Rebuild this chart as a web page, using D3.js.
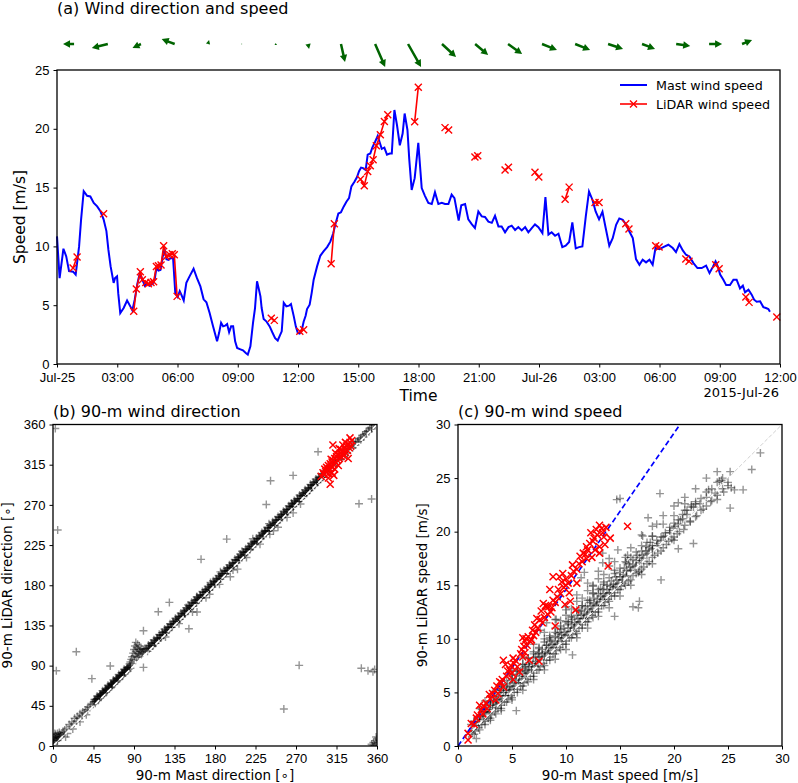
<!DOCTYPE html>
<html>
<head>
<meta charset="utf-8">
<script src="https://cdn.jsdelivr.net/npm/d3@7"></script>
<style>
body { margin: 0; background: #fff; }
svg { display: block; font-family: "DejaVu Sans", sans-serif; }
.axis path { display: none; }
.axis line { stroke: #000; stroke-width: 1; }
.axis text { fill: #000; font-size: 13px; }
</style>
</head>
<body>
<div id="chart"></div>
<script>
// ---- data (hours since 2015-07-25 00:00, m/s, degrees) ----
var mastSpeed = [[0,10.85],[0.13,7.3],[0.32,9.8],[0.46,9.15],[0.6,7.9],[0.8,7.85],[0.93,7.6],[1.1,10],[1.2,12.3],[1.33,14.7],[1.5,14.3],[1.66,14.25],[1.83,13.7],[2.0,13.4],[2.16,13],[2.32,12.3],[2.46,11.3],[2.56,9.7],[2.67,8.3],[2.82,6.9],[2.89,7.3],[2.99,7.45],[3.05,6],[3.15,4.33],[3.32,4.76],[3.49,5.4],[3.65,4.9],[3.75,4.56],[3.87,5.47],[4.0,6.8],[4.12,7.7],[4.25,7.2],[4.37,6.65],[4.48,6.9],[4.61,6.65],[4.75,6.8],[4.86,7.15],[4.95,8.15],[5.05,7.95],[5.15,8],[5.25,9],[5.35,9.85],[5.45,8.9],[5.55,8.85],[5.65,9],[5.78,9],[5.89,6.03],[6.01,5.7],[6.11,6.2],[6.19,5.9],[6.31,5.4],[6.44,6.9],[6.6,7.45],[6.8,8.1],[6.97,7.3],[7.14,6.6],[7.3,5.5],[7.44,5.25],[7.6,4.33],[7.77,3.2],[7.97,1.93],[8.07,2.63],[8.17,3.5],[8.27,3.2],[8.37,3.26],[8.47,3.4],[8.57,2.7],[8.67,3.2],[8.77,3.2],[8.87,1.93],[8.97,1.36],[9.1,1.27],[9.26,1.16],[9.4,0.93],[9.5,0.8],[9.63,1.5],[9.76,3.5],[9.86,4.76],[9.96,7.03],[10.06,6.3],[10.13,5.75],[10.19,4.76],[10.29,3.82],[10.42,3.63],[10.59,3.2],[10.72,2.7],[10.86,2.2],[10.99,2],[11.09,2.4],[11.19,2.78],[11.29,5.2],[11.42,4.9],[11.55,4.96],[11.65,5.1],[11.79,4.05],[11.89,3.2],[11.99,2.63],[12.08,2.58],[12.19,2.9],[12.28,3.6],[12.38,4.1],[12.45,4.67],[12.58,5.04],[12.68,6.03],[12.78,7.17],[12.95,8.3],[13.11,9.2],[13.28,9.6],[13.45,9.94],[13.61,10.4],[13.75,11.1],[13.88,12],[14.01,12.8],[14.14,12.9],[14.28,13.4],[14.41,13.8],[14.54,14.1],[14.66,15.1],[14.81,15.5],[14.94,15.9],[15.04,16.4],[15.14,16.7],[15.24,16.66],[15.37,16.5],[15.47,17.8],[15.6,17.9],[15.7,18.4],[15.84,18.9],[15.97,19.4],[16.07,18.84],[16.17,18.3],[16.3,18.4],[16.43,17.8],[16.57,17.9],[16.67,17.9],[16.8,21.6],[16.93,20.3],[17.07,18.6],[17.21,19.6],[17.31,21.3],[17.45,19.9],[17.54,17.4],[17.66,14.8],[17.81,15.8],[17.99,18.8],[18.16,14.96],[18.32,14.3],[18.49,13.7],[18.66,13.6],[18.82,14.6],[18.99,13.6],[19.16,13.7],[19.32,13.6],[19.49,13.6],[19.65,14.4],[19.79,14.1],[19.9,13.1],[20.0,12.2],[20.13,13.5],[20.32,13.6],[20.48,12.3],[20.65,11.9],[20.81,11.56],[20.98,12.97],[21.15,12.55],[21.31,12.5],[21.48,12.1],[21.65,12],[21.81,12.6],[21.98,11.7],[22.14,11.7],[22.31,11.2],[22.48,11.64],[22.64,11.76],[22.81,11.4],[22.97,11.64],[23.14,11.36],[23.31,11.64],[23.47,11.2],[23.64,11.56],[23.8,11.87],[23.97,11.64],[24.17,11.13],[24.32,14.2],[24.47,11],[24.63,11.2],[24.8,10.9],[24.97,11.08],[25.16,9.94],[25.33,10.06],[25.5,10.37],[25.66,12.04],[25.83,9.83],[25.99,9.94],[26.16,10],[26.33,12.55],[26.49,14.67],[26.66,13.97],[26.82,12.97],[26.99,12.3],[27.16,12.95],[27.32,11.56],[27.5,10.06],[27.67,10.7],[27.84,11.84],[28.0,12.38],[28.17,12.27],[28.34,11.84],[28.5,11.27],[28.67,10.7],[28.83,8.92],[29.0,8.44],[29.16,8.87],[29.33,8.64],[29.5,8.87],[29.66,8.44],[29.8,9.86],[30.0,9.77],[30.19,9.94],[30.44,10.14],[30.66,9.86],[30.82,9.52],[30.99,10.2],[31.16,9.66],[31.32,9.29],[31.49,9.15],[31.69,8.58],[31.89,8.16],[32.1,8.16],[32.32,8.36],[32.49,7.73],[32.65,8.24],[32.79,8.73],[32.9,8.3],[33.02,7.6],[33.18,7.17],[33.32,6.71],[33.51,6.71],[33.68,7.17],[33.84,7.17],[34.01,6.43],[34.15,6.66],[34.26,6.09],[34.43,6.32],[34.59,5.9],[34.71,5.47],[34.84,5.3],[35.01,5.33],[35.17,4.84],[35.3,4.76],[35.42,4.67],[35.5,4.45]];

// null = gap between LiDAR runs
var lidarSpeed = [[0.8,8.16],[1.0,9.1],null,[2.32,12.78],null,[3.82,4.48],[3.95,6.37],[4.15,7.85],[4.25,7.17],[4.42,6.94],[4.55,6.83],[4.68,6.94],[4.81,7.0],[4.95,8.3],[5.05,8.36],[5.18,8.41],[5.31,10.06],[5.44,9.15],[5.61,9.29],[5.74,9.38],[5.84,9.29],[5.98,5.75],null,[10.67,3.9],[10.82,3.71],null,[12.09,2.78],[12.28,2.92],null,[13.65,8.53],[13.81,11.93],null,[15.11,15.72],[15.3,15.16],[15.47,16.37],[15.6,16.86],[15.74,17.37],[15.9,18.56],[16.1,19.5],[16.3,20.62],[16.47,21.19],null,[17.81,20.6],[17.99,23.54],null,[19.32,20.1],[19.5,19.9],null,[20.81,17.6],[20.95,17.7],null,[22.31,16.5],[22.48,16.74],null,[23.8,16.3],[23.99,15.9],null,[25.3,14.0],[25.5,15.04],null,[26.79,13.74],[26.99,13.74],null,[28.32,11.93],[28.48,11.47],null,[29.81,10.06],[29.98,9.94],null,[31.31,8.92],[31.47,8.73],null,[32.8,8.44],[32.97,8.1],null,[34.3,5.69],[34.46,5.24],null,[35.84,3.99]];

// quiver: hour, u (east), v (north) in m/s
var arrowTime = [0.85,2.53,4.18,5.86,7.52,9.18,10.86,12.5,14.14,15.84,17.48,19.17,20.82,22.46,24.15,25.8,27.44,29.13,30.83,32.47,34.11];
var arrowU = [-8.5,-12.3,-6.5,-10,0.8,0.8,1.5,0.8,3.1,7.7,10,10.8,10,10.8,11.5,11.5,11.5,10,10.8,10,7.7];
var arrowV = [0,-3.1,-3.1,3.8,3,0,-0.8,-3.8,-13.8,-17.7,-17.7,-10,-8.5,-7.7,-4.6,-4.6,-3.8,-3.8,-1.5,0,3.1];

var timeTicksHours = 3;
var speedTicks = [0,5,10,15,20,25];
var dirTicks = [0,45,90,135,180,225,270,315,360];
var spdTicks = [0,5,10,15,20,25,30];

// (b) mast direction vs LiDAR direction
var dirGray = [[0,6],[1,9],[1,4],[2,11],[2,7],[3,13],[3,8],[4,10],[5,14],[5,6],[6,12],[7,15],[7,9],[8,13],[9,11],[10,14],[11,16],[12,15],[1,2],[0,3],[0,9],[2,14],[4,7],[6,9],[8,10],
[13,18],[15,20],[16,14],[18,24],[20,22],[21,27],[23,25],[24,31],[26,28],[27,33],[29,31],[30,36],[32,34],[33,38],[35,37],[36,40],[38,41],[39,44],[41,43],[42,46],[44,47],[14,10],[22,19],[30,27],[37,35],
[45,49],[46,50],[47,50],[48,52],[49,53],[50,53],[51,55],[52,56],[53,57],[54,57],[55,59],[56,60],[57,60],[58,62],[59,63],[60,63],[61,65],[62,66],[63,66],[64,68],[65,69],[66,69],[67,71],[68,72],[69,72],[70,74],[71,75],[72,76],[73,76],[74,78],[75,79],[76,79],[77,81],[78,82],[79,83],[80,84],[81,85],[82,86],[83,87],[84,88],[85,89],[86,90],
[86,94],[87,97],[88,92],[88,100],[89,104],[90,96],[90,108],[91,112],[91,101],[92,116],[92,106],[93,110],[93,99],[94,114],[94,104],[95,108],[95,100],[96,112],[96,103],[97,106],[98,109],[98,102],[99,105],[100,108],[100,104],[101,107],[102,109],[103,108],
[104,109],[106,110],[108,112],[110,114],[112,116],[114,117],[116,120],[118,121],[120,124],[122,125],[124,128],[126,129],[128,132],[130,133],[132,136],[134,137],[136,140],[138,141],[140,144],[142,145],[144,148],[146,149],[148,152],[150,153],[152,156],[154,157],[156,160],[158,161],[160,164],[162,165],[164,168],[166,169],[168,172],[170,173],[172,176],[174,177],[176,180],[178,181],[180,184],[182,185],[184,188],[186,189],[188,192],[190,193],[192,196],[194,197],[196,200],[198,201],[200,204],[202,205],[204,208],[206,209],[208,212],[210,213],[212,216],[214,217],[216,220],[218,221],[220,224],[222,225],[224,228],[226,229],[228,232],[230,233],[232,236],[234,237],[236,240],[238,241],[240,244],[242,245],[244,248],[246,249],[248,252],[250,253],[252,256],[254,257],[256,260],[258,261],[260,264],[262,265],[264,268],[266,269],[268,272],[270,273],[272,276],[274,277],[276,280],[278,281],[280,284],[282,285],[284,288],[286,289],[288,292],[290,293],[292,296],[294,297],[296,300],[298,301],
[47,48],[50,51],[53,55],[56,57],[59,60],[62,64],[65,66],[68,69],[71,73],[74,75],[77,78],[80,82],[83,84],[86,87],[105,106],[108,110],[111,112],[114,115],[117,119],[120,121],[123,124],[126,128],[129,130],[132,133],[135,137],[138,139],[141,142],[144,146],[147,148],[150,151],[153,155],[156,157],[159,160],[162,164],[165,166],[168,169],[171,173],[174,175],[177,178],[180,182],[183,184],[186,187],[189,191],[192,193],[195,196],[198,200],[201,202],[204,205],[207,209],[210,211],[213,214],[216,218],[219,220],[222,223],[225,227],[228,229],[231,232],[234,236],[237,238],[240,241],[243,245],[246,247],[249,250],[252,254],[255,256],[258,259],[261,263],[264,265],[267,268],[270,272],[273,274],[276,277],[279,281],[282,283],[285,286],[288,290],[291,292],[294,295],[297,299],[300,301],[303,305],[306,307],[309,310],[312,314],[315,316],[318,319],[321,323],[324,325],[327,328],[330,332],[333,334],[336,337],[339,341],[342,343],[345,346],[348,350],[351,352],[354,355],
[46,52],[49,56],[52,58],[55,62],[58,64],[61,68],[64,70],[67,74],[70,76],[73,80],[76,82],[79,86],[82,88],[85,92],[106,113],[109,115],[112,119],[115,121],[118,125],[121,127],[124,131],[127,133],[130,137],[133,139],[136,143],[139,145],[142,149],[145,151],[148,155],[151,157],[154,161],[157,163],[160,167],[163,169],[166,173],[169,175],[172,179],[175,181],[178,185],[181,187],[184,191],[187,193],[190,197],[193,199],[196,203],[199,205],[202,209],[205,211],[208,215],[211,217],[214,221],[217,223],[220,227],[223,229],[226,233],[229,235],[232,239],[235,241],[238,245],[241,247],[244,251],[247,253],[250,257],[253,259],[256,263],[259,265],[262,269],[265,271],[268,275],[271,277],[274,281],[277,283],[280,287],[283,289],[286,293],[289,295],[292,299],[295,301],[298,305],
[48,50],[51,53],[54,56],[57,59],[60,62],[63,65],[66,68],[69,71],[72,74],[75,77],[78,80],[81,83],[84,86],[107,109],[110,112],[113,115],[116,118],[119,121],[122,124],[125,127],[128,130],[131,133],[134,136],[137,139],[140,142],[143,145],[146,148],[149,151],[152,154],[155,157],[158,160],[161,163],[164,166],[167,169],[170,172],[173,175],[176,178],[179,181],[182,184],[185,187],[188,190],[191,193],[194,196],[197,199],[200,202],[203,205],[206,208],[209,211],[212,214],[215,217],[218,220],[221,223],[224,226],[227,229],[230,232],[233,235],[236,238],[239,241],[242,244],[245,247],[248,250],[251,253],[254,256],[257,259],[260,262],[263,265],[266,268],[269,271],[272,274],[275,277],[278,280],[281,283],[284,286],[287,289],[290,292],[293,295],[296,298],[299,301],
[47,52],[50,55],[53,58],[56,61],[59,64],[62,67],[65,70],[68,73],[71,76],[74,79],[77,82],[80,85],[83,88],[107,112],[110,115],[113,118],[116,121],[119,124],[122,127],[125,130],[128,133],[131,136],[134,139],[137,142],[140,145],[143,148],[146,151],[149,154],[152,157],[155,160],[158,163],[161,166],[164,169],[167,172],[170,175],[173,178],[176,181],[179,184],[182,187],[185,190],[188,193],[191,196],[194,199],[197,202],[200,205],[203,208],[206,211],[209,214],[212,217],[215,220],[218,223],[221,226],[224,229],[227,232],[230,235],[233,238],[236,241],[239,244],[242,247],[245,250],[248,253],[251,256],[254,259],[257,262],[260,265],[263,268],[266,271],[269,274],[272,277],[275,280],[278,283],[281,286],[284,289],[287,292],[290,295],[293,298],[296,301],[299,304],
[125,122],[140,137],[155,150],[170,166],[185,181],[200,197],[215,211],[230,226],[245,241],[260,256],[275,271],[150,158],[175,183],[210,218],[240,249],[265,272],[186,195],[205,198],[222,232],[160,150],[250,245],[235,240],
[300,304],[302,305],[304,308],[306,309],[308,312],[310,313],[312,316],[314,317],[316,320],[318,321],[320,324],[322,325],[324,328],[326,329],[328,332],[330,333],[332,336],[334,337],[336,340],[338,341],[340,344],[342,345],[344,348],[346,349],[348,352],[350,353],[352,356],[354,357],[356,359],[357,360],[358,360],
[354,2],[356,4],[357,1],[358,6],[359,3],[360,8],[359,10],[355,0],
[2.6,355.6],[5.2,241.8],[3.7,84.3],[25.9,105.6],[43.2,75.4],[63.6,89.6],[100.5,129.1],[100.5,88],[117,150.4],[129.3,160.8],[151,131.3],[164.5,209],[193,231.7],[241.7,297],[266.8,303],[237,270.5],[240.9,237],[266.8,261],[294.5,329.5],[273.5,90.3],[256.5,41.4],[340,271.3],[354,276.5],[342.6,87],[350,84.3],[355.5,83.2],[357.4,85.8],[197,189.5],[174,170],[159.6,167]];

var dirRed = [[298,302],[300,306],[301,304],[302,310],[303,307],[304,312],[305,309],[306,314],[306,305],[307,311],[308,316],[308,293],[309,313],[310,318],[310,306],[311,320],[311,337],[312,315],[313,322],[313,310],[314,318],[315,324],[316,320],[317,326],[317,314],[318,322],[319,328],[320,324],[320,332],[321,327],[322,330],[323,325],[324,333],[325,329],[326,336],[327,331],[328,338],[328,322],[329,334],[330,340],[331,336],[332,342],[325,340],[318,333],[314,328],[309,321],[322,337],[330,345],[306,300],[312,303]];

// (c) mast speed vs LiDAR speed
var spdGray = [[1.0,0.9],[1.1,1.3],[1.3,1.2],[1.4,1.6],[1.6,1.4],[1.7,1.9],[1.9,1.7],[2.0,2.2],[2.2,2.0],[2.3,2.5],[2.5,2.3],[2.6,2.8],[2.8,2.6],[2.9,3.2],[3.1,2.9],[3.2,3.4],[3.4,3.2],[3.5,3.8],[3.7,3.5],[3.8,4.0],[4.0,3.8],[4.1,4.4],[4.3,4.1],[4.4,4.7],[4.6,4.4],[4.7,5.0],[4.9,4.7],[5.0,5.3],[5.2,5.0],[5.3,5.6],[5.5,5.3],[5.6,5.9],[5.8,5.6],[5.9,6.2],[6.1,5.9],[6.2,6.5],[6.4,6.2],[6.5,6.8],[6.7,6.5],[6.8,7.1],[7.0,6.8],[7.1,7.4],[7.3,7.1],[7.4,7.7],[7.6,7.4],[7.7,8.0],[7.9,7.7],[8.0,8.3],[8.2,8.0],[8.3,8.6],[8.5,8.3],[8.6,8.9],[8.8,8.6],[8.9,9.2],[9.1,8.9],[9.2,9.5],[9.4,9.2],[9.5,9.8],[9.7,9.5],[9.8,10.1],[10.0,9.8],[10.1,10.4],[10.3,10.1],[10.4,10.7],[10.6,10.4],[10.7,11.0],[10.9,10.7],[11.0,11.3],[11.2,11.0],[11.3,11.6],[11.5,11.3],[11.6,11.9],[11.8,11.6],[11.9,12.2],[12.1,11.9],[12.2,12.5],[12.4,12.2],[12.5,12.8],[12.7,12.5],[12.8,13.1],[13.0,12.8],[13.1,13.4],[13.3,13.1],[13.4,13.7],[13.6,13.4],[13.7,14.0],[13.9,13.7],[14.0,14.3],[14.2,14.0],[14.3,14.6],[14.5,14.3],[14.6,14.9],[14.8,14.6],[14.9,15.2],[15.1,14.9],[15.2,15.5],[15.4,15.2],[15.6,15.8],[15.8,15.4],[16.0,16.3],[16.2,15.9],[16.5,16.8],[16.7,16.2],[17.0,17.3],[17.2,16.7],[17.5,17.9],[17.7,17.2],[18.0,18.4],[18.2,17.8],[18.5,18.9],[18.8,18.2],[19.0,19.5],[19.3,18.8],[19.6,20.1],[19.8,19.3],[20.1,20.5],[20.3,19.8],[20.6,21.1],[20.9,20.2],[21.2,21.6],[21.5,20.9],[21.8,22.3],[22.1,21.5],[22.4,22.6],[22.7,22.1],[23.0,23.2],[23.4,22.8],[23.8,23.6],[24.2,24.7],[24.4,24.8],[24.6,23.7],[25.0,24.3],[25.3,24.1],[24.0,23.0],[23.2,23.9],[22.0,22.8],[21.6,22.5],[21.0,22.0],
[1.2,2.0],[1.5,2.3],[1.8,2.5],[2.1,2.9],[2.4,3.2],[2.7,3.4],[3.0,3.8],[3.3,4.1],[3.6,4.3],[3.9,4.7],[4.2,5.0],[4.5,5.2],[4.8,5.6],[5.1,5.9],[5.4,6.1],[5.7,6.5],[6.0,6.8],[6.3,7.0],[6.6,7.4],[6.9,7.7],[7.2,7.9],[7.5,8.3],[7.8,8.6],[8.1,8.8],[8.4,9.2],[8.7,9.5],[9.0,9.7],[9.3,10.1],[9.6,10.4],[9.9,10.6],[10.2,11.0],[10.5,11.3],[10.8,11.5],[11.1,11.9],[11.4,12.2],[11.7,12.4],[12.0,12.8],[12.3,13.1],[12.6,13.3],[12.9,13.7],[13.2,14.0],[13.5,14.2],[13.8,14.6],[14.1,14.9],[14.4,15.1],[14.7,15.5],[15.0,15.8],[15.3,16.0],[15.6,16.4],[15.9,16.7],[16.2,16.9],[16.5,17.3],[16.8,17.6],[17.1,17.8],[17.4,18.2],[17.7,18.5],[18.0,18.7],[18.4,19.2],[18.8,19.5],[19.2,19.9],[19.6,20.4],[20.0,20.8],[20.4,21.1],[20.8,21.6],[21.2,22.0],[21.6,22.3],[22.0,22.6],[22.5,23.1],[23.0,23.7],[23.5,24.0],[24.0,24.6],[24.5,25.0],
[2.0,3.5],[2.5,4.2],[3.0,4.6],[3.5,5.2],[4.0,5.6],[4.5,6.1],[5.0,6.7],[5.5,7.1],[6.0,7.6],[6.5,8.2],[7.0,8.6],[7.5,9.1],[8.0,9.7],[8.5,10.1],[9.0,10.6],[9.5,11.2],[10.0,11.6],[10.5,12.1],[11.0,12.7],[11.5,13.1],[12.0,13.6],[12.5,14.2],[13.0,14.6],[13.5,15.1],[14.0,15.7],[14.5,16.1],[15.0,16.6],[15.5,17.2],[16.0,17.6],[16.5,18.1],[17.0,18.7],[17.5,19.0],[18.0,19.6],[19.0,20.7],[20.0,21.5],[21.0,22.6],
[1.5,1.1],[2.0,1.5],[2.5,2.0],[3.0,2.6],[3.5,3.0],[4.0,3.5],[4.5,4.1],[5.0,4.5],[5.5,5.0],[6.0,5.6],[6.5,6.0],[7.0,6.5],[7.5,7.1],[8.0,7.5],[8.5,8.0],[9.0,8.6],[9.5,9.0],[10.0,9.5],[10.5,10.1],[11.0,10.5],[11.5,11.0],[12.0,11.6],[12.5,12.0],[13.0,12.5],[13.5,13.1],[14.0,13.5],[14.5,14.0],[15.0,14.6],[15.5,15.0],[16.0,15.5],[16.5,16.1],[17.0,16.5],[17.5,17.0],[18.0,17.6],[18.5,18.0],[19.0,18.5],[19.5,19.1],[20.0,19.5],[20.5,20.0],[21.0,20.6],[21.5,21.0],[22.0,21.4],[22.5,22.0],[23.0,22.4],[23.5,22.9],[24.0,23.4],[24.5,24.0],[25.0,24.6],
[1.6,1.9],[2.0,2.3],[2.4,2.7],[2.8,3.1],[3.2,3.6],[3.6,3.9],[4.0,4.3],[4.4,4.7],[4.8,5.2],[5.2,5.5],[5.6,5.9],[6.0,6.3],[6.4,6.8],[6.8,7.1],[7.2,7.5],[7.6,7.9],[8.0,8.4],[8.4,8.7],[8.8,9.1],[9.2,9.5],[9.6,10.0],[10.0,10.3],[10.4,10.7],[10.8,11.1],[11.2,11.6],[11.6,11.9],[12.0,12.3],[12.4,12.7],[12.8,13.2],[13.2,13.5],[13.6,13.9],[14.0,14.3],[14.4,14.8],[14.8,15.1],[15.2,15.5],[15.6,15.9],[16.0,16.4],[16.4,16.7],[16.8,17.1],[17.2,17.5],[17.6,18.0],[18.0,18.3],[18.4,18.7],[18.8,19.1],[19.2,19.6],[19.6,19.9],[20.0,20.3],[20.4,20.7],[20.8,21.2],
[2.2,3.4],[2.6,3.8],[3.0,4.2],[3.4,4.6],[3.8,5.0],[4.2,5.4],[4.6,5.8],[5.0,6.2],[5.4,6.6],[5.8,7.0],[6.2,7.4],[6.6,7.8],[7.0,8.2],[7.4,8.6],[7.8,9.0],[8.2,9.4],[8.6,9.8],[9.0,10.2],[9.4,10.6],[9.8,11.0],[10.2,11.4],[10.6,11.8],[11.0,12.2],[11.4,12.6],[11.8,13.0],[12.2,13.4],[12.6,13.8],[13.0,14.2],[13.4,14.6],[13.8,15.0],[14.2,15.4],[14.6,15.8],[15.0,16.2],[15.4,16.6],[15.8,17.0],[16.2,17.4],[16.6,17.8],[17.0,18.2],[17.4,18.6],[17.8,19.0],
[6,5.2],[8,7.1],[10,9.0],[12,11.0],[14,12.9],[16,15.0],[18,17.0],[20,19.2],[9,8.1],[11,10.1],[13,12.1],[15,14.0],[17,16.0],[7,6.2],[5,4.3],[4,3.3],[3,2.4],
[3,4.0],[4,5.2],[5,6.3],[5.5,7.0],[6,7.6],[6.5,8.2],[7,8.8],[7.5,9.2],[8,10.0],[8.5,10.3],[9,11.0],[9.5,11.7],[10,12.2],[10.5,12.8],[11,13.5],[11.5,13.8],[12,14.5],[12.5,15.0],[13,15.6],[13.5,16.0],[14,16.8],[14.5,17.2],[6.2,7.2],[7.2,8.3],[8.2,9.4],[9.2,10.5],[10.2,11.6],[11.2,12.6],[12.2,13.6],[13.2,14.7],[4.5,5.5],[3.5,4.4],[2.5,3.2],[2,2.8],[1.5,2.3],
[4,5.8],[5,7.0],[6,8.3],[7,9.5],[8,10.6],[9,11.8],[10,13.0],[11,14.1],[12,15.2],[13,16.3],[14,17.5],[6.5,7.6],[7.5,8.7],[8.5,9.9],[9.5,10.9],[10.5,12.0],[11.5,13.1],[12.5,14.3],[13.5,15.3],[14.5,16.4],[15.5,17.6],[16,18.5],[17,19.7],[18,20.5],[19,21.5],[20,22.4],[21,23.2],[22,24.0],[23,25.0],[24,25.6],
[28,27.35],[27.2,25.8],[25.2,25.6],[26.4,23.9],[25.6,23.9],[25.2,22.2],[15,23.1],[14.7,22.99],[18.7,23.55],[20.4,22.7],[17.6,21.3],[18.4,20.7],[17.1,19.6],[18,19.56],[18.8,15.5],[21.8,18.9],[20.4,18.4],[16.8,13.5],[16.2,13],[16.7,12.9],[14.5,12.1],[10.6,8.5],[5.4,3.3],[1.7,0.7],[15.7,17.8],[14.8,18.3],[13.4,18.0],[11.7,16.2],[12.5,14.9],[11.4,15.7],[9.4,14],[8.2,11.5],[9.1,11.8],[7.6,10.8],[10,12.7],[13.4,17.1],[16.8,16.3],[15.6,17.1]];

var spdRed = [[0.93,0.56],[0.93,1.18],[1.23,2.1],[1.7,2.6],[2.16,3.4],[2.0,3.8],[2.6,4.0],[2.9,4.8],[3.4,5.2],[3.5,4.3],[3.86,6.0],[4.2,5.5],[4.5,6.5],[4.4,7.6],[4.8,7.1],[5.2,7.7],[5.1,8.2],[5.7,6.9],[6.0,8.3],[6.1,9.3],[6.3,10.0],[6.5,10.2],[6.7,9.75],[6.9,10.8],[6.6,8.0],[7.1,11.3],[7.6,11.8],[7.5,7.9],[7.9,13.3],[8.2,13.0],[8.6,12.5],[8.8,13.6],[8.5,14.6],[9.3,14.6],[9.4,15.8],[9.7,16.1],[9.6,15.3],[10.0,15.0],[10.3,14.3],[10.9,12.7],[10.6,16.9],[11.3,17.7],[11.6,18.0],[11.9,17.5],[12.3,19.9],[12.8,20.2],[13.1,20.6],[13.4,19.9],[13.1,18.6],[13.1,18.0],[13.7,20.4],[14.1,19.4],[13.9,16.8],[15.7,20.5],[11.9,18.6],[12.5,19.1],[8.8,15.8],[9.0,11.2],[5.1,6.2],[4.2,8.0],
[1.5,2.0],[1.8,2.9],[2.3,3.0],[2.4,3.7],[2.7,3.5],[3.0,4.4],[3.2,4.9],[3.6,5.6],[3.7,4.9],[4.0,5.9],[4.1,6.2],[4.6,7.0],[4.9,7.5],[5.0,6.8],[5.3,8.0],[5.5,7.4],[5.8,8.6],[5.9,9.0],[6.2,8.7],[6.4,9.4],[6.8,9.9],[7.0,10.3],[7.2,10.6],[7.4,11.0],[7.8,11.5],[8.0,12.0],[8.3,12.3],[8.4,13.0],[8.7,12.9],[9.0,13.4],[9.2,13.9],[9.5,14.2],[9.8,14.8],[10.0,15.6],[10.2,15.2],[10.5,15.9],[10.7,16.3],[11.0,16.5],[11.2,17.0],[11.5,17.2],[11.8,17.9],[12.0,18.3],[12.2,18.9],[12.6,19.4],[12.9,19.7],[13.3,20.3],[13.5,19.5],[13.6,18.8],[12.7,18.3],[12.4,17.6],[11.0,15.2],[10.4,13.5],[9.9,13.2],[6.0,10.1],[6.2,9.8],[7.3,11.9],[7.7,12.6],[8.1,13.1]];

// fitted lines (intercept, slope, x from, x to)
var fitLidar = [0, 1.46, 0, 30];
var fitMast = [0.1, 1.0, 0.8, 20.3];

// ---- drawing ----
var W = 798, H = 783;
var svg = d3.select("#chart").append("svg").attr("width", W).attr("height", H);
var defs = svg.append("defs");

var t0 = new Date(2015, 6, 25, 0, 0);
function toDate(h) { return new Date(t0.getTime() + h * 3600000); }

var plusPath = "M-4,0H4M0,-4V4";
var crossPath = "M-3.5,-3.5L3.5,3.5M-3.5,3.5L3.5,-3.5";

// panel (a)
var a = {left: 57, right: 780, top: 70, bottom: 364};
var xa = d3.scaleTime().domain([t0, toDate(36)]).range([a.left, a.right]);
var ya = d3.scaleLinear().domain([0, 25]).range([a.bottom, a.top]);

var fmtDay = d3.timeFormat("%b-%d"), fmtHour = d3.timeFormat("%H:%M");

svg.append("g").attr("class", "axis")
    .attr("transform", "translate(0," + a.bottom + ")")
    .call(d3.axisBottom(xa).ticks(d3.timeHour.every(timeTicksHours)).tickSize(3.5).tickPadding(5.5)
        .tickFormat(function(d) { return d.getHours() === 0 ? fmtDay(d) : fmtHour(d); }));

svg.append("g").attr("class", "axis")
    .attr("transform", "translate(" + a.left + ",0)")
    .call(d3.axisLeft(ya).tickValues(speedTicks).tickSize(3.5).tickPadding(4));

var lineA = d3.line()
    .defined(function(d) { return d !== null; })
    .x(function(d) { return xa(toDate(d[0])); })
    .y(function(d) { return ya(d[1]); });

svg.append("path").datum(mastSpeed)
    .attr("d", lineA).attr("fill", "none").attr("stroke", "#0000ff").attr("stroke-width", 2);

svg.append("path").datum(lidarSpeed)
    .attr("d", lineA).attr("fill", "none").attr("stroke", "#ff0000").attr("stroke-width", 1.6);

svg.append("g").selectAll("path")
    .data(lidarSpeed.filter(function(d) { return d !== null; }))
    .enter().append("path")
    .attr("d", crossPath)
    .attr("transform", function(d) { return "translate(" + xa(toDate(d[0])) + "," + ya(d[1]) + ")"; })
    .attr("stroke", "#ff0000").attr("stroke-width", 1.4).attr("fill", "none");

svg.append("rect").attr("x", a.left).attr("y", a.top)
    .attr("width", a.right - a.left).attr("height", a.bottom - a.top)
    .attr("fill", "none").attr("stroke", "#000").attr("stroke-width", 1.3);

// quiver row
var quiverY = 44, quiverScale = 1.3;
arrowTime.forEach(function(h, i) {
    var dx = arrowU[i] * quiverScale, dy = -arrowV[i] * quiverScale;
    var L = Math.sqrt(dx * dx + dy * dy), ang = Math.atan2(dy, dx) * 180 / Math.PI;
    var hl = 7, hw = 3.7, sw = 1.25;
    var k = L < hl ? L / hl : 1;
    var b = L - hl * k;
    var p = "M0," + (-sw * k) + "L" + b + "," + (-sw * k) + "L" + b + "," + (-hw * k) +
        "L" + L + ",0L" + b + "," + (hw * k) + "L" + b + "," + (sw * k) + "L0," + (sw * k) + "Z";
    svg.append("path").attr("d", p).attr("fill", "#006400")
        .attr("transform", "translate(" + xa(toDate(h)) + "," + quiverY + ") rotate(" + ang + ")");
});

// legend
var lg = svg.append("g");
lg.append("line").attr("x1", 620).attr("x2", 647).attr("y1", 85).attr("y2", 85)
    .attr("stroke", "#0000ff").attr("stroke-width", 2);
lg.append("line").attr("x1", 620).attr("x2", 647).attr("y1", 104).attr("y2", 104)
    .attr("stroke", "#ff0000").attr("stroke-width", 1.6);
lg.append("path").attr("d", crossPath).attr("transform", "translate(633.5,104)")
    .attr("stroke", "#ff0000").attr("stroke-width", 1.4);
lg.append("text").attr("x", 656).attr("y", 89.5).attr("font-size", "12.7px").text("Mast wind speed");
lg.append("text").attr("x", 656).attr("y", 108.5).attr("font-size", "12.7px").text("LiDAR wind speed");

svg.append("text").attr("x", 57).attr("y", 14).attr("font-size", "16px").text("(a) Wind direction and speed");
svg.append("text").attr("x", (a.left + a.right) / 2).attr("y", 401).attr("text-anchor", "middle")
    .attr("font-size", "15.5px").text("Time");
svg.append("text").attr("x", 779).attr("y", 397).attr("text-anchor", "end")
    .attr("font-size", "13px").text("2015-Jul-26");
svg.append("text").attr("transform", "translate(25," + (a.top + a.bottom) / 2 + ") rotate(-90)")
    .attr("text-anchor", "middle").attr("font-size", "15.5px").text("Speed [m/s]");

// scatter panels
function scatterPanel(id, box, maxV, ticks, grayPts, redPts, title, xlabel, ylabel, ylabelX, fits) {
    var x = d3.scaleLinear().domain([0, maxV]).range([box.left, box.right]);
    var y = d3.scaleLinear().domain([0, maxV]).range([box.bottom, box.top]);

    defs.append("clipPath").attr("id", id).append("rect")
        .attr("x", box.left).attr("y", box.top)
        .attr("width", box.right - box.left).attr("height", box.bottom - box.top);

    var g = svg.append("g").attr("clip-path", "url(#" + id + ")");

    g.append("g").selectAll("path").data(grayPts).enter().append("path")
        .attr("d", plusPath)
        .attr("transform", function(d) { return "translate(" + x(d[0]) + "," + y(d[1]) + ")"; })
        .attr("stroke", "#000").attr("stroke-opacity", 0.42).attr("stroke-width", 1.4);

    // 1:1 reference
    g.append("line").attr("x1", x(0)).attr("y1", y(0)).attr("x2", x(maxV)).attr("y2", y(maxV))
        .attr("stroke", "#d0d0d0").attr("stroke-width", 1).attr("stroke-dasharray", "4,2");

    fits.forEach(function(f) {
        g.append("line")
            .attr("x1", x(f.fit[2])).attr("y1", y(f.fit[0] + f.fit[1] * f.fit[2]))
            .attr("x2", x(f.fit[3])).attr("y2", y(f.fit[0] + f.fit[1] * f.fit[3]))
            .attr("stroke", f.color).attr("stroke-width", 1.7).attr("stroke-dasharray", "5.5,3");
    });

    g.append("g").selectAll("path").data(redPts).enter().append("path")
        .attr("d", crossPath)
        .attr("transform", function(d) { return "translate(" + x(d[0]) + "," + y(d[1]) + ")"; })
        .attr("stroke", "#ff0000").attr("stroke-width", 1.5);

    svg.append("g").attr("class", "axis")
        .attr("transform", "translate(0," + box.bottom + ")")
        .call(d3.axisBottom(x).tickValues(ticks).tickSize(3.5).tickPadding(4));
    svg.append("g").attr("class", "axis")
        .attr("transform", "translate(" + box.left + ",0)")
        .call(d3.axisLeft(y).tickValues(ticks).tickSize(3.5).tickPadding(4));

    svg.append("rect").attr("x", box.left).attr("y", box.top)
        .attr("width", box.right - box.left).attr("height", box.bottom - box.top)
        .attr("fill", "none").attr("stroke", "#000").attr("stroke-width", 1.3);

    svg.append("text").attr("x", box.left).attr("y", 417).attr("font-size", "16px").text(title);
    svg.append("text").attr("x", (box.left + box.right) / 2).attr("y", 780)
        .attr("text-anchor", "middle").attr("font-size", "13.5px").text(xlabel);
    svg.append("text").attr("transform", "translate(" + ylabelX + "," + (box.top + box.bottom) / 2 + ") rotate(-90)")
        .attr("text-anchor", "middle").attr("font-size", "13.5px").text(ylabel);
}

scatterPanel("clipB", {left: 53, right: 377, top: 424.5, bottom: 746}, 360, dirTicks,
    dirGray, dirRed, "(b) 90-m wind direction", "90-m Mast direction [\u2218]",
    "90-m LiDAR direction [\u2218]", 12,
    [{fit: [0, 1, 0, 360], color: "#ffffff"}]);

scatterPanel("clipC", {left: 458, right: 782, top: 424.5, bottom: 746}, 30, spdTicks,
    spdGray, spdRed, "(c) 90-m wind speed", "90-m Mast speed [m/s]",
    "90-m LiDAR speed [m/s]", 427,
    [{fit: fitMast, color: "#ffffff"}, {fit: fitLidar, color: "#0000ff"}]);
</script>
</body>
</html>
